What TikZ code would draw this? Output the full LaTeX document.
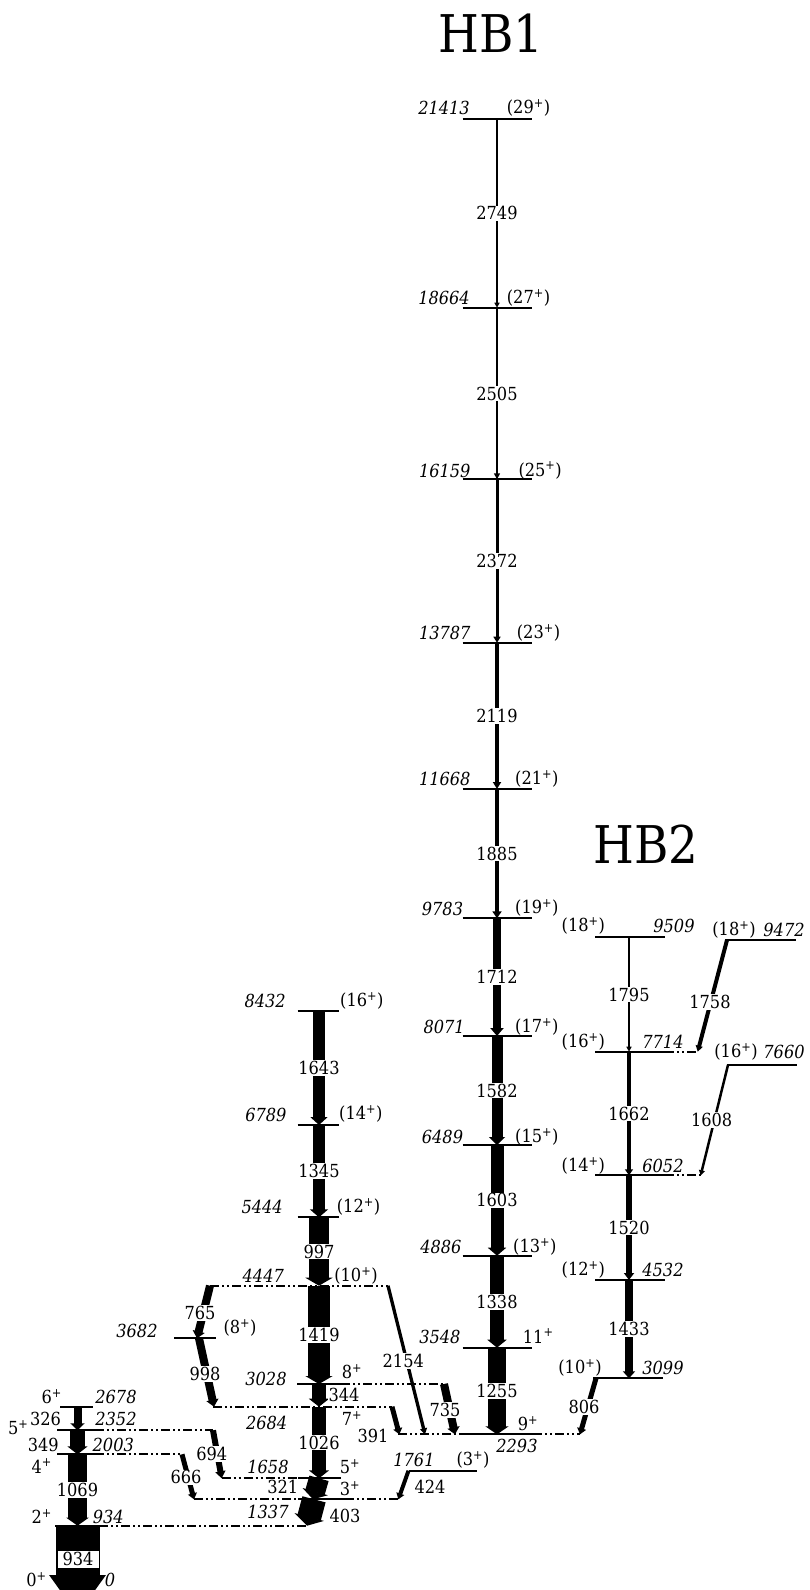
\documentclass[tikz,border=0pt]{standalone}
\usepackage{fontspec}
\setmainfont{DejaVu Serif Condensed}
\usetikzlibrary{arrows.meta}
\newcommand\pl{\textsuperscript{+}}
\begin{document}
\begin{tikzpicture}[x=1pt,y=-1pt,font=\fontsize{18}{21}\selectfont,
 lev/.style={line width=1.8pt},
 dd/.style={line width=1.8pt,dash pattern=on 9pt off 3pt on 2pt off 3pt on 2pt off 3pt},
 gam/.style n args={3}{line width=#1,-{Triangle[length=#3,width=#2]}},
 glab/.style={fill=white,inner sep=1pt},
 en/.style={font=\fontsize{18}{21}\selectfont\itshape,inner sep=0pt},
 sp/.style={inner sep=0pt},
 ttl/.style={font=\fontsize{52}{56}\selectfont,inner sep=0pt}]
\clip (0,0) rectangle (809,1590);
\fill[white] (0,0) rectangle (809,1590);

% ---------- titles
\node[ttl] (t1) at (491,33.5) {HB1};
\node[ttl] (t2) at (646,844) {HB2};

% ---------- HB1 levels
\foreach \y in {119,307.7,479.3,642.7,789,918.3,1036,1145,1255.7,1347.7}
  \draw[lev] (462.7,\y) -- (531.7,\y);
\draw[lev] (460,1434.3) -- (533,1434.3);
\draw[dd] (398,1434.3) -- (460,1434.3);
\draw[dd] (533,1434.3) -- (580,1434.3);

\coordinate (h21413) at (497,119);
\coordinate (h18664) at (497,307.7);
\coordinate (h16159) at (497,479.3);
\coordinate (h13787) at (497,642.7);
\coordinate (h11668) at (497,789);
\coordinate (h9783) at (497,918.3);
\coordinate (h8071) at (497,1036);
\coordinate (h6489) at (497,1145);
\coordinate (h4886) at (497,1255.7);
\coordinate (h3548) at (497,1347.7);
\coordinate (h2293) at (497,1434.3);

% ---------- left band levels
\foreach \y in {1011,1125,1217.3}
  \draw[lev] (297.7,\y) -- (339.3,\y);
\draw[dd] (210,1285.7) -- (388,1285.7);
\draw[lev] (297,1384) -- (341,1384);
\draw[dd] (341,1384) -- (444,1384);
\draw[dd] (213,1406.7) -- (392,1406.7);
\draw[dd] (221.7,1478.3) -- (298,1478.3);
\draw[lev] (298,1478.3) -- (341,1478.3);
\draw[dd] (194,1499.3) -- (298,1499.3);
\draw[lev] (298,1499.3) -- (345,1499.3);
\draw[dd] (345,1499.3) -- (398.3,1499.3);
\draw[lev] (408.5,1470.7) -- (476.7,1470.7);
\draw[lev] (174,1338.3) -- (216,1338.3);

\coordinate (b8432) at (319,1011);
\coordinate (b6789) at (319,1125);
\coordinate (b5444) at (319,1217.3);
\coordinate (b4447) at (319,1285.7);
\coordinate (b3028) at (319,1384);
\coordinate (b2684) at (319,1406.7);
\coordinate (b1658) at (319,1478.3);
\coordinate (b1337a) at (313,1499.3);
\coordinate (b1337b) at (314,1499.3);
\coordinate (c934e) at (307,1525.7);

% ---------- left cluster levels
\draw[lev] (60,1406.7) -- (93,1406.7);
\draw[lev] (57,1430.3) -- (95,1430.3);
\draw[dd] (95,1430.3) -- (213,1430.3);
\draw[lev] (57,1454.3) -- (95,1454.3);
\draw[dd] (95,1454.3) -- (182,1454.3);
\draw[lev] (55,1525.7) -- (99,1525.7);
\draw[dd] (99,1525.7) -- (307,1525.7);

\coordinate (c2678) at (77.5,1406.7);
\coordinate (c2352) at (77.5,1430.3);
\coordinate (c2003) at (77.5,1454.3);
\coordinate (c934) at (77.5,1525.7);
\coordinate (c0) at (77.5,1615);

% ---------- HB2 levels
\draw[lev] (595,937.3) -- (665,937.3);
\draw[lev] (595,1051.7) -- (665,1051.7);
\draw[dd] (665,1051.7) -- (697.7,1051.7);
\draw[lev] (595,1175.3) -- (665,1175.3);
\draw[dd] (665,1175.3) -- (700.7,1175.3);
\draw[lev] (595,1280) -- (665,1280);
\draw[lev] (593.3,1378.3) -- (663.3,1378.3);
\draw[lev] (725,940) -- (796,940);
\draw[lev] (727,1065) -- (796.7,1065);

\coordinate (k9509) at (629,937.3);
\coordinate (k7714) at (629,1051.7);
\coordinate (k6052) at (629,1175.3);
\coordinate (k4532) at (629,1280);
\coordinate (k3099) at (629,1378.3);

% ---------- oblique end points
\coordinate (o765a) at (210,1285.7);   \coordinate (o765b) at (197,1338.3);
\coordinate (o998a) at (199,1338.3);   \coordinate (o998b) at (214,1406.7);
\coordinate (o2154a) at (388,1285.7);  \coordinate (o2154b) at (425,1434.3);
\coordinate (o735a) at (444,1384);     \coordinate (o735b) at (455,1434.3);
\coordinate (o391a) at (392,1406.7);   \coordinate (o391b) at (399.3,1434.3);
\coordinate (o694a) at (213,1430.3);   \coordinate (o694b) at (221.7,1478.3);
\coordinate (o666a) at (182,1454.3);   \coordinate (o666b) at (194,1499.3);
\coordinate (o424a) at (408.5,1470.7); \coordinate (o424b) at (398.3,1499.3);
\coordinate (o806a) at (596,1378.3);   \coordinate (o806b) at (580,1434.3);
\coordinate (o1758a) at (727,940);     \coordinate (o1758b) at (697.7,1051.7);
\coordinate (o1608a) at (728,1065);    \coordinate (o1608b) at (700.7,1175.3);

% ---------- HB1 gammas
\draw[gam={2pt}{5pt}{5pt}] (h21413) -- (h18664) node[glab,midway]{2749};
\draw[gam={2.5pt}{6pt}{6pt}] (h18664) -- (h16159) node[glab,midway]{2505};
\draw[gam={3pt}{7pt}{6pt}] (h16159) -- (h13787) node[glab,midway]{2372};
\draw[gam={4pt}{8pt}{7pt}] (h13787) -- (h11668) node[glab,midway]{2119};
\draw[gam={4.5pt}{9pt}{7pt}] (h11668) -- (h9783) node[glab,midway]{1885};
\draw[gam={8pt}{13pt}{8pt}] (h9783) -- (h8071) node[glab,midway]{1712};
\draw[gam={11pt}{16pt}{8pt}] (h8071) -- (h6489) node[glab,midway]{1582};
\draw[gam={13pt}{18pt}{8pt}] (h6489) -- (h4886) node[glab,midway]{1603};
\draw[gam={14pt}{19pt}{8pt}] (h4886) -- (h3548) node[glab,midway]{1338};
\draw[gam={18.5pt}{23pt}{8pt}] (h3548) -- (h2293) node[glab,midway]{1255};

% ---------- left band gammas
\draw[gam={11.7pt}{17pt}{8pt}] (b8432) -- (b6789) node[glab,midway]{1643};
\draw[gam={11.7pt}{18pt}{8pt}] (b6789) -- (b5444) node[glab,midway]{1345};
\draw[gam={20pt}{27pt}{8pt}] (b5444) -- (b4447) node[glab,midway]{997};
\draw[gam={22pt}{27pt}{8pt}] (b4447) -- (b3028) node[glab,midway]{1419};
\draw[gam={13.3pt}{20pt}{8pt}] (b3028) -- (b2684);
\draw[gam={13.3pt}{20pt}{8pt}] (b2684) -- (b1658) node[glab,midway]{1026};
\draw[gam={20pt}{26pt}{8pt}] (b1658) -- (b1337a);
\draw[gam={24pt}{30pt}{9pt}] (b1337b) -- (c934e);

% ---------- oblique gammas
\draw[gam={8pt}{12pt}{7pt}] (o765a) -- (o765b);
\draw[gam={8pt}{12pt}{7pt}] (o998a) -- (o998b);
\draw[gam={3.3pt}{7pt}{6pt}] (o2154a) -- (o2154b);
\draw[gam={8pt}{12pt}{7pt}] (o735a) -- (o735b);
\draw[gam={5pt}{9pt}{6pt}] (o391a) -- (o391b);
\draw[gam={6pt}{10pt}{7pt}] (o694a) -- (o694b);
\draw[gam={5pt}{9pt}{6pt}] (o666a) -- (o666b);
\draw[gam={4pt}{8pt}{6pt}] (o424a) -- (o424b);
\draw[gam={5pt}{9pt}{6pt}] (o806a) -- (o806b);
\draw[gam={4pt}{7pt}{6pt}] (o1758a) -- (o1758b);
\draw[gam={2.5pt}{6pt}{5pt}] (o1608a) -- (o1608b);

% ---------- left cluster gammas
\draw[gam={8pt}{14pt}{7pt}] (c2678) -- (c2352);
\draw[gam={15pt}{20pt}{8pt}] (c2352) -- (c2003);
\draw[gam={18.3pt}{22pt}{8pt}] (c2003) -- (c934) node[glab,midway]{1069};
\draw[gam={44pt}{54pt}{40pt}] (c934) -- (c0);
\node[fill=white,inner sep=0pt,minimum width=41pt,minimum height=17pt] (box934) at (78,1559) {934};

% ---------- HB2 gammas
\draw[gam={2pt}{5pt}{5pt}] (k9509) -- (k7714) node[glab,midway]{1795};
\draw[gam={4.5pt}{8pt}{6pt}] (k7714) -- (k6052) node[glab,midway]{1662};
\draw[gam={6pt}{10pt}{7pt}] (k6052) -- (k4532) node[glab,midway]{1520};
\draw[gam={7.5pt}{12pt}{7pt}] (k4532) -- (k3099) node[glab,midway]{1433};

% ---------- separate gamma labels
\node[glab] (g344) at (344,1395) {344};
\node[glab] (g321) at (282.7,1486.7) {321};
\node (g403) at (345,1516) {403};
\node[glab] (g765) at (200,1312.7) {765};
\node[glab] (g998) at (205,1374) {998};
\node[glab] (g2154) at (403.3,1361) {2154};
\node[glab] (g735) at (445,1410) {735};
\node (g391) at (373,1436) {391};
\node[glab] (g694) at (211.7,1454) {694};
\node[glab] (g666) at (186,1477.3) {666};
\node (g424) at (430,1486.7) {424};
\node[glab] (g806) at (584,1406.7) {806};
\node[glab] (g1758) at (710,1001.7) {1758};
\node[glab] (g1608) at (711.7,1120) {1608};
\node (g326) at (45.5,1419.3) {326};
\node (g349) at (43.3,1445) {349};

% ---------- HB1 level labels
\node[en,anchor=east] (e21413) at (470,108) {21413};
\node[en,anchor=east] (e18664) at (470,298) {18664};
\node[en,anchor=east] (e16159) at (470.7,470.5) {16159};
\node[en,anchor=east] (e13787) at (470.7,633) {13787};
\node[en,anchor=east] (e11668) at (470.7,779) {11668};
\node[en,anchor=east] (e9783) at (463.3,908.5) {9783};
\node[en,anchor=east] (e8071) at (465,1026.7) {8071};
\node[en,anchor=east] (e6489) at (463.3,1136.7) {6489};
\node[en,anchor=east] (e4886) at (461.7,1246.7) {4886};
\node[en,anchor=east] (e3548) at (460.7,1337) {3548};
\node[en] (e2293) at (517,1446) {2293};
\node[sp,anchor=west] (s29) at (506.7,108) {(29\pl)};
\node[sp,anchor=west] (s27) at (506.7,298) {(27\pl)};
\node[sp,anchor=west] (s25) at (518.3,470.5) {(25\pl)};
\node[sp,anchor=west] (s23) at (516.7,633) {(23\pl)};
\node[sp,anchor=west] (s21) at (515,779) {(21\pl)};
\node[sp,anchor=west] (s19) at (515,908) {(19\pl)};
\node[sp,anchor=west] (s17) at (515,1026.7) {(17\pl)};
\node[sp,anchor=west] (s15) at (515,1136.7) {(15\pl)};
\node[sp,anchor=west] (s13) at (513,1246.7) {(13\pl)};
\node[sp,anchor=west] (s11) at (522.7,1336) {11\pl};
\node[sp] (s9) at (528,1424) {9\pl};

% ---------- left band level labels
\node[en,anchor=east] (e8432) at (286,1001) {8432};
\node[en,anchor=east] (e6789) at (286.7,1115) {6789};
\node[en,anchor=east] (e5444) at (283,1207) {5444};
\node[en] (e4447) at (263.3,1276) {4447};
\node[en] (e3682) at (137,1331) {3682};
\node[en] (e3028) at (266,1379) {3028};
\node[en] (e2684) at (266.7,1422.7) {2684};
\node[en] (e1658) at (268,1467) {1658};
\node[en] (e1337) at (268,1511.7) {1337};
\node[en] (e1761) at (414,1460) {1761};
\node[sp,anchor=west] (s16b) at (340,1001) {(16\pl)};
\node[sp,anchor=west] (s14b) at (339,1114) {(14\pl)};
\node[sp,anchor=west] (s12b) at (336.7,1207) {(12\pl)};
\node[sp] (s10b) at (356,1276) {(10\pl)};
\node[sp] (s8p) at (240,1328) {(8\pl)};
\node[sp] (s8b) at (352,1371.7) {8\pl};
\node[sp] (s7b) at (352,1418.3) {7\pl};
\node[sp] (s5b) at (350,1467) {5\pl};
\node[sp] (s3b) at (350,1488.3) {3\pl};
\node[sp] (s3p) at (473,1460) {(3\pl)};

% ---------- left cluster labels
\node[en] (e2678) at (116,1396.7) {2678};
\node[en] (e2352) at (116,1419.3) {2352};
\node[en] (e2003) at (113.3,1445) {2003};
\node[en] (e934) at (108.3,1516.7) {934};
\node[en] (e0) at (110,1580) {0};
\node[sp] (s6c) at (51.7,1396.7) {6\pl};
\node[sp] (s5c) at (18.3,1428) {5\pl};
\node[sp] (s4c) at (41.7,1466) {4\pl};
\node[sp] (s2c) at (41.7,1516.7) {2\pl};
\node[sp] (s0c) at (36.5,1580) {0\pl};

% ---------- HB2 labels
\node[sp] (s18k) at (583.3,926) {(18\pl)};
\node[sp] (s16k) at (583.3,1042) {(16\pl)};
\node[sp] (s14k) at (583.3,1166) {(14\pl)};
\node[sp] (s12k) at (583.3,1270) {(12\pl)};
\node[sp] (s10k) at (580,1368) {(10\pl)};
\node[en] (e9509) at (674,926) {9509};
\node[en] (e7714) at (663,1042) {7714};
\node[en] (e6052) at (663,1166) {6052};
\node[en] (e4532) at (663,1270) {4532};
\node[en] (e3099) at (663,1368) {3099};
\node[sp] (s18r) at (734,930) {(18\pl)};
\node[en] (e9472) at (784,930) {9472};
\node[sp] (s16r) at (736,1052) {(16\pl)};
\node[en] (e7660) at (784,1052) {7660};
\end{tikzpicture}
\end{document}
